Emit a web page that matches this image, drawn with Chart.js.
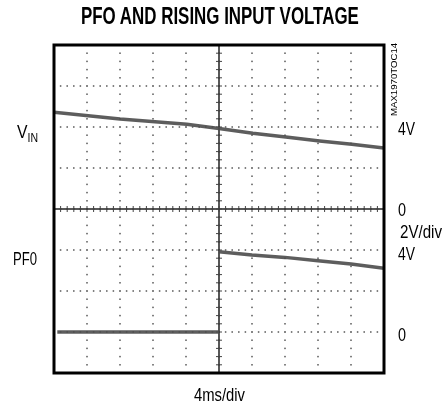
<!DOCTYPE html>
<html>
<head>
<meta charset="utf-8">
<script src="https://cdn.jsdelivr.net/npm/chart.js@4.4.1/dist/chart.umd.min.js"></script>
<style>
  html, body { margin: 0; padding: 0; background: #fff; }
  #wrap { position: relative; width: 444px; height: 410px; overflow: hidden;
          font-family: "Liberation Sans", Arial, sans-serif; color: #000; }
  #scope { position: absolute; left: 0; top: 0; }
  .lbl { position: absolute; font-size: 18px; line-height: 18px; white-space: nowrap; transform-origin: left top; }
  .title { position: absolute; top: 5px; font-size: 23px; line-height: 23px; font-weight: bold;
           white-space: nowrap; transform-origin: left top; }
  .code { position: absolute; font-size: 9.5px; line-height: 10px; white-space: nowrap; transform-origin: left top; }
  sub { font-size: 12px; vertical-align: -4px; line-height: 0; }
</style>
</head>
<body>
<div id="wrap">
  <canvas id="scope" width="444" height="410"></canvas>
  <div class="title" data-w="278" style="left:81px;">PFO AND RISING INPUT VOLTAGE</div>
  <div class="code" data-w="73" data-rot="1" style="left:389px; top:116px;">MAX1970TOC14</div>
  <div class="lbl" data-w="21" style="left:17px; top:123px;">V<sub>IN</sub></div>
  <div class="lbl" data-w="24" style="left:13px; top:250px;">PF0</div>
  <div class="lbl" data-w="17" style="left:398px; top:120px;">4V</div>
  <div class="lbl" data-w="8" style="left:398px; top:201px;">0</div>
  <div class="lbl" data-w="42" style="left:400px; top:223px;">2V/div</div>
  <div class="lbl" data-w="17" style="left:398px; top:245px;">4V</div>
  <div class="lbl" data-w="8" style="left:398px; top:326px;">0</div>
  <div class="lbl" data-w="51" style="left:194px; top:386px;">4ms/div</div>
</div>
<script>
document.addEventListener('DOMContentLoaded', function() {

  // ====== data (time in ms, volts) ======
  const vinTime   = [-20, -12, -3.9, 0, 4.1, 8.1, 12.2, 16.1, 20];
  const vinValues = [4.72, 4.39, 4.13, 3.93, 3.69, 3.51, 3.32, 3.16, 2.98];

  const pfoTime   = [-19.6, -10, 0, 0, 4, 8, 12, 16, 20];
  const pfoValues = [0, 0, 0, 3.92, 3.76, 3.64, 3.48, 3.32, 3.11];

  // screen: 10 div x 8 div, 4ms/div, 2V/div
  const xTicks = [-20, -16, -12, -8, -4, 0, 4, 8, 12, 16, 20];
  const yTicks = [-8, -6, -4, -2, 0, 2, 4, 6, 8];

  const toPoints = (xs, ys) => xs.map((x, i) => ({ x: x, y: ys[i] }));

  // squeeze labels to the condensed face of the original
  document.querySelectorAll('[data-w]').forEach(el => {
    const s = parseFloat(el.dataset.w) / el.scrollWidth;
    el.style.transform = el.dataset.rot ? 'rotate(-90deg) scaleX(' + s + ')' : 'scaleX(' + s + ')';
  });

  // graticule: dotted divisions, ticked centre lines, heavy frame
  const graticule = {
    id: 'graticule',
    beforeDatasetsDraw(chart) {
      const ctx = chart.ctx;
      const a = chart.chartArea;
      const xs = chart.scales.x, ys = chart.scales.y;
      ctx.save();
      ctx.fillStyle = '#808080';
      xTicks.forEach(t => {
        const px = Math.round(xs.getPixelForValue(t));
        for (let v = -8; v <= 8.001; v += 0.4) {
          const py = ys.getPixelForValue(v);
          ctx.fillRect(px - 1, py - 0.75, 2, 1.5);
        }
      });
      yTicks.forEach(t => {
        const py = Math.round(ys.getPixelForValue(t));
        for (let v = -20; v <= 20.001; v += 0.8) {
          const px = xs.getPixelForValue(v);
          ctx.fillRect(px - 0.75, py - 1, 1.5, 2);
        }
      });
      const cx = xs.getPixelForValue(0), cy = ys.getPixelForValue(0);
      ctx.strokeStyle = '#222';
      ctx.lineWidth = 1.5;
      ctx.beginPath();
      ctx.moveTo(a.left, cy); ctx.lineTo(a.right, cy);
      ctx.moveTo(cx, a.top); ctx.lineTo(cx, a.bottom);
      ctx.stroke();
      ctx.lineWidth = 1;
      ctx.strokeStyle = '#444';
      ctx.beginPath();
      for (let v = -20; v <= 20.001; v += 0.8) {
        const px = xs.getPixelForValue(v);
        ctx.moveTo(px, cy - 3); ctx.lineTo(px, cy + 3);
      }
      for (let v = -8; v <= 8.001; v += 0.4) {
        const py = ys.getPixelForValue(v);
        ctx.moveTo(cx - 3, py); ctx.lineTo(cx + 3, py);
      }
      ctx.stroke();
      ctx.restore();
    },
    afterDatasetsDraw(chart) {
      const ctx = chart.ctx;
      const a = chart.chartArea;
      ctx.save();
      ctx.strokeStyle = '#000';
      ctx.lineWidth = 3;
      ctx.strokeRect(a.left, a.top, a.right - a.left, a.bottom - a.top);
      ctx.restore();
    }
  };

  const traceColor = 'rgba(75, 75, 75, 0.9)';

  new Chart(document.getElementById('scope').getContext('2d'), {
    type: 'line',
    data: {
      datasets: [{
        label: 'VIN',
        data: toPoints(vinTime, vinValues),
        yAxisID: 'y',
        borderColor: traceColor,
        borderWidth: 3.5,
        pointRadius: 0,
        tension: 0
      }, {
        label: 'PFO',
        data: toPoints(pfoTime, pfoValues),
        yAxisID: 'y2',
        borderColor: traceColor,
        borderWidth: 3.5,
        pointRadius: 0,
        tension: 0,
        segment: {
          borderColor: c => c.p0.parsed.x === c.p1.parsed.x ? 'rgba(75, 75, 75, 0.3)' : undefined,
          borderWidth: c => c.p0.parsed.x === c.p1.parsed.x ? 1 : undefined
        }
      }]
    },
    options: {
      responsive: false,
      animation: false,
      layout: { padding: { left: 54, right: 60, top: 45, bottom: 37 } },
      plugins: { legend: { display: false }, tooltip: { enabled: false } },
      scales: {
        x: { type: 'linear', min: -20, max: 20, display: false },
        y: { min: -8, max: 8, display: false },
        y2: { min: -2, max: 14, display: false }
      }
    },
    plugins: [graticule]
  });
});
</script>
</body>
</html>
